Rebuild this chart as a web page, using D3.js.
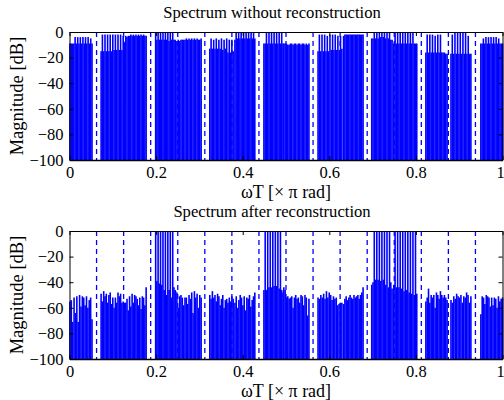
<!DOCTYPE html>
<html><head><meta charset="utf-8">
<script src="https://cdn.jsdelivr.net/npm/d3@7"></script>
<style>
html,body{margin:0;padding:0;background:#fff;overflow:hidden}
text{font-family:"Liberation Serif",serif;fill:#000}
</style></head><body><svg id="c" width="504" height="400"></svg>
<script>
const titles = ["Spectrum without reconstruction","Spectrum after reconstruction"];
const xLabel = "ωT [× π rad]";
const yLabel = "Magnitude [dB]";
const xTicks = [0,0.2,0.4,0.6,0.8,1];
const yTicks = [0,-20,-40,-60,-80,-100];
const dashes = [0.0625,0.125,0.1875,0.25,0.3125,0.375,0.4375,0.5,0.5625,0.625,0.6875,0.75,0.8125,0.875,0.9375];
const bandStart = [0.001,0.073,0.124,0.199,0.245,0.324,0.382,0.449,0.495,0.574,0.633,0.698,0.749,0.823,0.881,0.950];
const bandEnd   = [0.052,0.121,0.177,0.244,0.304,0.378,0.428,0.493,0.553,0.629,0.678,0.745,0.802,0.872,0.927,1.000];

const before = [
 [-9,-9,-9,-9,-4,-9,-4,-9,-4,-9,-4,-9,-4,-9,-4,-9,-5,-9],
 [-15,-2,-15,-2,-15,-2,-15,-2,-15,-2,-14,-2,-14,-2,-14,-2,-14],
 [-3,-8,-3,-4,-3,-3,-2,-3,-2,-3,-2,-3,-2,-3,-2,-3,-2,-3,-3],
 [0,-6,0,-6,0,-6,0,-6,0,-6,0,-7,0,-6,0,-6,-6],
 [-7,-7,-6,-7,-6,-6,-6,-6,-5,-6,-5,-6,-5,-6,-5,-6,-5,-6,-6,-5],
 [-13,-5,-13,-6,-13,-5,-13,-6,-13,-5,-14,-6,-13,-5,-16,-6,-16,-6,-15],
 [-6,0,-5,0,-5,0,-5,0,-5,0,-5,0,-5,0,-5,0,-5],
 [-9,-9,0,-9,0,-9,0,-9,0,-9,0,-9,0,-9,0,-9],
 [-9,-9,-9,-10,-10,-9,-9,-10,-9,-9,-10,-9,-9,-10,-9,-9,-10,-9,-10,-9],
 [-15,-2,-15,-2,-15,-2,-15,-3,-15,-2,-14,-2,-14,-2,-14,-3,-14,-3,-13],
 [-3,-2,-2,-2,-2,-2,-2,-2,-2,-2,-2,-2,-2,-2,-2,-2],
 [-5,-5,0,-5,0,-5,0,-4,0,-4,0,-5,0,-5,0,-6,-6],
 [-9,0,-9,0,-9,0,-9,0,-9,0,-9,0,-9,0,-9,0,-9,-9,-9],
 [-16,-2,-16,-2,-16,-2,-16,-3,-16,-2,-16,-2,-16,-16,-16,-17,-17],
 [-17,-2,-17,0,-17,0,-17,0,-17,0,-17,0,-17,-3,-17,-17],
 [-9,-9,-5,-9,-4,-9,-4,-9,-4,-9,-4,-9,-4,-9,-5,-9,-9,-9]
];
const after = [
 [-55,-54,-71,-52,-64,-51,-71,-50,-59,-51,-52,-58,-51,-60,-54,-52,-69],
 [-49,-55,-47,-51,-49,-56,-50,-48,-57,-52,-60,-52,-56,-48,-51,-49,-56],
 [-55,-56,-56,-53,-62,-51,-59,-49,-56,-50,-51,-53,-58,-52,-61,-51,-52,-58,-44],
 [0,-39,0,-41,0,-42,0,-46,0,-50,0,-46,0,-52,0,-44,-46],
 [-47,-48,-60,-51,-50,-52,-58,-52,-52,-57,-50,-53,-48,-64,-47,-52,-49,-60,-50,-52],
 [-50,-53,-47,-52,-50,-55,-49,-51,-58,-53,-50,-60,-54,-53,-56,-52,-55,-51,-53],
 [-56,-51,-60,-54,-50,-52,-58,-51,-62,-52,-53,-50,-59,-54,-51,-48],
 [-46,0,-46,0,-44,0,-44,0,-43,0,-43,0,-45,0,-46,-48],
 [-44,-46,-52,-51,-53,-52,-51,-60,-52,-50,-53,-52,-56,-50,-51,-58,-50,-52,-66,-53],
 [-52,-53,-50,-52,-49,-53,-47,-52,-48,-50,-54,-51,-53,-52,-58,-57,-56,-56],
 [-57,-53,-51,-54,-52,-50,-52,-53,-50,-52,-51,-50,-53,-50,-48,-44],
 [-42,-40,0,-38,0,-38,0,-39,0,-38,0,-42,0,-44,0,-40,-45],
 [-42,0,-44,0,-44,0,-45,0,-47,0,-46,0,-48,0,-49,0,-50,0,-49],
 [-55,-52,-45,-56,-50,-52,-50,-60,-48,-50,-53,-47,-50,-52,-50,-52,-54],
 [-54,-56,-51,-53,-49,-51,-52,-50,-56,-51,-52,-48,-50,-56,-51],
 [-65,-51,-52,-57,-50,-51,-52,-59,-52,-58,-52,-53,-60,-51,-55,-53,-52]
];

const panels = [
  {top:32, bottom:160, data:before, title:titles[0], titleY:18, labelY:197.5},
  {top:231, bottom:359, data:after, title:titles[1], titleY:217, labelY:396.5}
];
const x = d3.scaleLinear().domain([0,1]).range([69.5,502.5]);
const fmt = d => String(d).replace("-", "\u2212");
const svg = d3.select("#c");
const blue = "#0000ff";

panels.forEach((p,pi) => {
  const y = d3.scaleLinear().domain([-100,0]).range([p.bottom,p.top]);
  const g = svg.append("g");
  const stems = p.data.flatMap((vals,b) => vals.map((v,i) => ({
    f: bandStart[b] + i*(bandEnd[b]-bandStart[b])/(vals.length-1), v
  })));
  g.selectAll("line.stem").data(stems).join("line").attr("class","stem")
    .attr("x1",d=>x(d.f)).attr("x2",d=>x(d.f))
    .attr("y1",y(-100)).attr("y2",d=>y(d.v))
    .attr("stroke",blue).attr("stroke-width",1.6);
  g.selectAll("line.dash").data(dashes).join("line").attr("class","dash")
    .attr("x1",d=>x(d)).attr("x2",d=>x(d))
    .attr("y1",y(0)).attr("y2",y(-100))
    .attr("stroke",blue).attr("stroke-width",1.3).attr("stroke-dasharray","5,4");

  const mk = (ax,tx,ty,labels) => {
    const a = g.append("g").attr("transform",`translate(${tx},${ty})`).call(ax);
    a.selectAll("path,line").attr("stroke","#000").attr("stroke-width",1);
    a.selectAll("text").style("font-size","16.5px").style("font-family","Liberation Serif");
    if(!labels) a.selectAll("text").remove();
    return a;
  };
  const bottomAxis = mk(d3.axisBottom(x).tickValues(xTicks).tickSizeInner(-4).tickSizeOuter(0).tickFormat(d=>String(d)).tickPadding(6),0,p.bottom,true);
  bottomAxis.select("path").attr("stroke-width",1.5);
  bottomAxis.selectAll("text").filter(d=>d===1).attr("dx",-2.5);
  mk(d3.axisTop(x).tickValues(xTicks).tickSizeInner(-4).tickSizeOuter(0),0,p.top,false);
  mk(d3.axisLeft(y).tickValues(yTicks).tickSizeInner(-4).tickSizeOuter(0).tickFormat(fmt).tickPadding(6),69.5,0,true);
  mk(d3.axisRight(y).tickValues(yTicks).tickSizeInner(-4).tickSizeOuter(0),502.5,0,false);

  svg.append("text").attr("x",272).attr("y",p.titleY).attr("text-anchor","middle").style("font-size","16.6px").text(p.title);
  svg.append("text").attr("x",286).attr("y",p.labelY).attr("text-anchor","middle").style("font-size","18px").text(xLabel);
  svg.append("text").attr("transform",`translate(23,${(p.top+p.bottom)/2}) rotate(-90)`).attr("text-anchor","middle").style("font-size","18.5px").text(yLabel);
});
</script></body></html>
